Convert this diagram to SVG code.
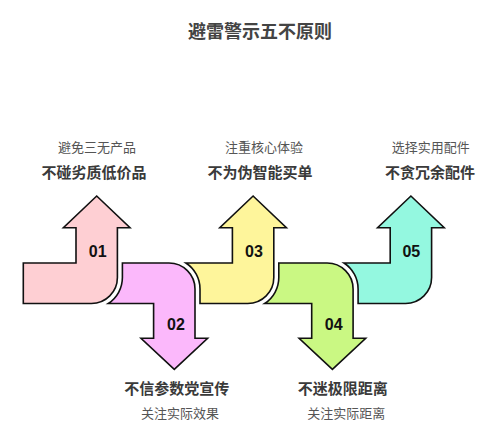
<svg xmlns="http://www.w3.org/2000/svg" width="500" height="442" viewBox="0 0 500 442">
<style>
.arrow{stroke:#111;stroke-width:1.6;stroke-linejoin:miter}
.num{font-family:"Liberation Sans","Noto Sans",sans-serif;font-weight:bold;font-size:16px;fill:#111;text-anchor:middle}
.title{font-family:"Noto Sans CJK SC",sans-serif;font-weight:bold;font-size:18px;fill:#444;text-anchor:middle}
.main{font-family:"Noto Sans CJK SC",sans-serif;font-weight:bold;font-size:15px;fill:#3a3a3a;text-anchor:middle}
.sub{font-family:"Noto Sans CJK SC",sans-serif;font-size:13px;fill:#555;text-anchor:middle}
</style>
<rect width="500" height="442" fill="#ffffff"/>
<text class="title" x="260" y="38">避雷警示五不原则</text>
<g id="connectors"></g>
<g id="step01">
<path class="arrow" fill="#FECFD3" d="M23.3,263 H76 V227.7 H63.4 L96.7,196 L130,227.7 H117.4 V277.5 A26,26 0 0 1 91.4,303.5 H23.3 Z"/>
<text class="num" x="97.7" y="257">01</text>
<text class="sub" x="97" y="152">避免三无产品</text>
<text class="main" x="94" y="178">不碰劣质低价品</text>
</g>
<g id="step02">
<path class="arrow" fill="#FBB8FB" d="M122.4,263 V277.5 A31,31 0 0 1 108.3,303.5 H153.6 V338.3 H141 L174.3,369.3 L207.6,338.3 H195 V289 A26,26 0 0 0 169,263 Z"/>
<text class="num" x="176" y="330">02</text>
<text class="main" x="176.7" y="394">不信参数党宣传</text>
<text class="sub" x="180" y="418">关注实际效果</text>
</g>
<g id="step03">
<path class="arrow" fill="#FEF59B" d="M200,303.5 V289 A31,31 0 0 0 185.9,263 H232.4 V227.7 H219.8 L253.1,196 L286.4,227.7 H273.8 V277.5 A26,26 0 0 1 247.8,303.5 Z"/>
<text class="num" x="254" y="257">03</text>
<text class="sub" x="264" y="152">注重核心体验</text>
<text class="main" x="260" y="178">不为伪智能买单</text>
</g>
<g id="step04">
<path class="arrow" fill="#CAF883" d="M278.8,263 V277.5 A31,31 0 0 1 264.7,303.5 H311.7 V338.3 H299.1 L332.4,369.3 L365.7,338.3 H353.1 V289 A26,26 0 0 0 327.1,263 Z"/>
<text class="num" x="333.7" y="330">04</text>
<text class="main" x="342.7" y="394">不迷极限距离</text>
<text class="sub" x="346.3" y="418">关注实际距离</text>
</g>
<g id="step05">
<path class="arrow" fill="#94F8E0" d="M358.1,303.5 V289 A31,31 0 0 0 344,263 H390.2 V227.7 H377.6 L410.9,196 L444.2,227.7 H431.6 V277.5 A26,26 0 0 1 405.6,303.5 Z"/>
<text class="num" x="411.3" y="257">05</text>
<text class="sub" x="430.8" y="152">选择实用配件</text>
<text class="main" x="430" y="178">不贪冗余配件</text>
</g>
</svg>
